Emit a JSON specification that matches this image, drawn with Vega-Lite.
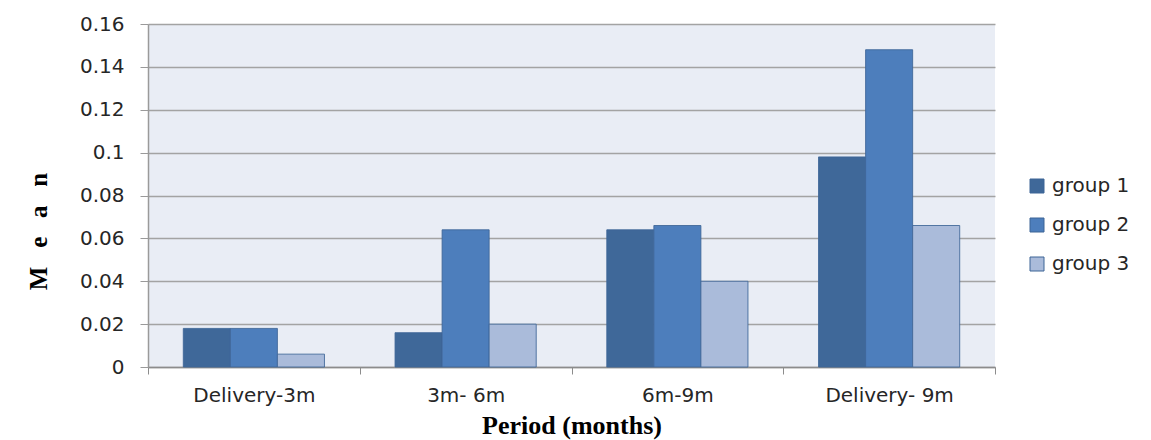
{
  "$schema": "https://vega.github.io/schema/vega-lite/v6.json",
  "width": 847,
  "height": 343,
  "autosize": {"type": "none"},
  "padding": {"left": 148, "top": 24, "right": 156, "bottom": 73},
  "background": "#ffffff",
  "data": {
    "values": [
      {"period": "Delivery-3m", "group": "group 1", "mean": 0.018},
      {"period": "Delivery-3m", "group": "group 2", "mean": 0.018},
      {"period": "Delivery-3m", "group": "group 3", "mean": 0.006},
      {"period": "3m- 6m", "group": "group 1", "mean": 0.016},
      {"period": "3m- 6m", "group": "group 2", "mean": 0.064},
      {"period": "3m- 6m", "group": "group 3", "mean": 0.02},
      {"period": "6m-9m", "group": "group 1", "mean": 0.064},
      {"period": "6m-9m", "group": "group 2", "mean": 0.066},
      {"period": "6m-9m", "group": "group 3", "mean": 0.04},
      {"period": "Delivery- 9m", "group": "group 1", "mean": 0.098},
      {"period": "Delivery- 9m", "group": "group 2", "mean": 0.148},
      {"period": "Delivery- 9m", "group": "group 3", "mean": 0.066}
    ]
  },
  "mark": {"type": "bar", "stroke": "#3D6596", "strokeWidth": 1, "strokeOpacity": 0.85},
  "encoding": {
    "x": {
      "field": "period",
      "type": "nominal",
      "sort": null,
      "scale": {"paddingInner": 0, "paddingOuter": 0},
      "axis": {
        "title": "Period (months)",
        "titleFont": "Liberation Serif",
        "titleFontWeight": "bold",
        "titleFontSize": 26,
        "titleColor": "#000000",
        "titlePadding": 7,
        "labelAngle": 0,
        "labelFont": "DejaVu Sans",
        "labelFontSize": 20,
        "labelColor": "#262626",
        "labelPadding": 11,
        "tickBand": "extent",
        "tickSize": 7,
        "tickColor": "#8C8C8C",
        "domainColor": "#8C8C8C",
        "domainWidth": 1.5,
        "grid": false
      }
    },
    "xOffset": {
      "field": "group",
      "type": "nominal",
      "scale": {"paddingInner": 0, "paddingOuter": 0.75}
    },
    "y": {
      "field": "mean",
      "type": "quantitative",
      "scale": {"domain": [0, 0.16]},
      "axis": {
        "title": "M\u00a0\u00a0\u00a0e\u00a0\u00a0\u00a0a\u00a0\u00a0\u00a0n",
        "titleFont": "Liberation Serif",
        "titleFontWeight": "bold",
        "titleFontSize": 25,
        "titleColor": "#000000",
        "titleX": -97,
        "titleY": 207,
        "values": [0, 0.02, 0.04, 0.06, 0.08, 0.1, 0.12, 0.14, 0.16],
        "labelExpr": "datum.value === 0 ? '0' : format(datum.value, '')",
        "labelFont": "DejaVu Sans",
        "labelFontSize": 20,
        "labelColor": "#262626",
        "labelPadding": 16,
        "tickSize": 8,
        "tickColor": "#9A9A9A",
        "domainColor": "#9A9A9A",
        "domainWidth": 1.5,
        "grid": true,
        "gridColor": "#A3A3A3",
        "gridWidth": 1.3
      }
    },
    "color": {
      "field": "group",
      "type": "nominal",
      "scale": {
        "domain": ["group 1", "group 2", "group 3"],
        "range": ["#3F6899", "#4D7EBC", "#AABBDA"]
      },
      "legend": {
        "title": null,
        "orient": "none",
        "legendX": 879,
        "legendY": 152,
        "symbolType": "square",
        "symbolSize": 196,
        "symbolStrokeColor": "#3D6596",
        "symbolStrokeWidth": 1,
        "symbolOpacity": 1,
        "labelFont": "DejaVu Sans",
        "labelFontSize": 20,
        "labelColor": "#262626",
        "labelOffset": 5,
        "rowPadding": 19
      }
    }
  },
  "config": {
    "view": {"fill": "#E9EDF5", "stroke": null}
  }
}
